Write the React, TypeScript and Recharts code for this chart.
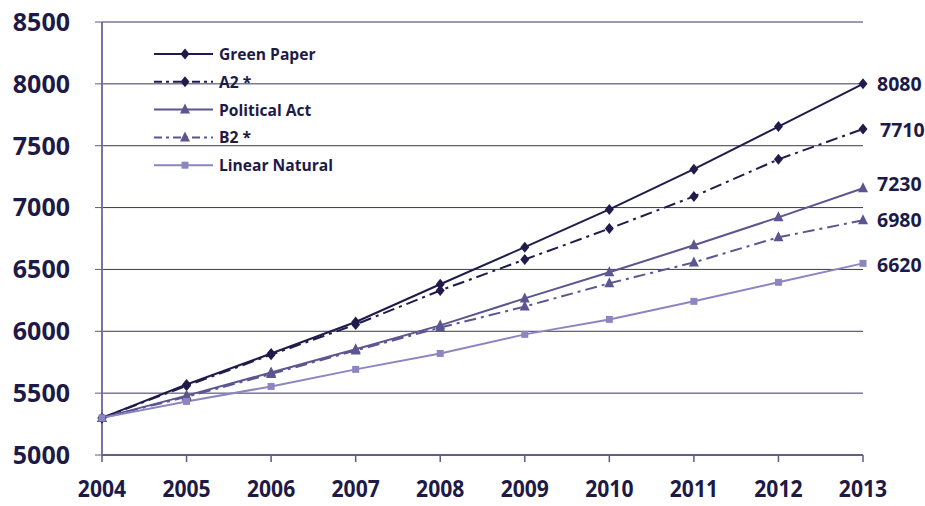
import React from 'react';
import { LineChart, Line, XAxis, YAxis, ReferenceLine, LabelList } from 'recharts';

const years = [2004, 2005, 2006, 2007, 2008, 2009, 2010, 2011, 2012, 2013];
const greenPaper = [5300, 5570, 5820, 6075, 6380, 6680, 6985, 7310, 7655, 8000];
const a2 = [5300, 5560, 5810, 6055, 6330, 6580, 6830, 7090, 7390, 7635];
const politicalAct = [5300, 5480, 5667, 5855, 6048, 6266, 6477, 6695, 6921, 7156];
const b2 = [5300, 5470, 5655, 5845, 6030, 6200, 6388, 6557, 6760, 6897];
const linearNatural = [5300, 5433, 5554, 5692, 5821, 5975, 6096, 6242, 6396, 6549];
const yTicks = [5000, 5500, 6000, 6500, 7000, 7500, 8000, 8500];
const endLabels = ['8080', '7710', '7230', '6980', '6620'];

const data = years.map((year, i) => ({
  year,
  gp: greenPaper[i],
  a2: a2[i],
  pa: politicalAct[i],
  b2: b2[i],
  ln: linearNatural[i],
}));

const DARK = '#1f1b4b';
const MID = '#5b5590';
const LIGHT = '#8b86c2';
const TEXT = '#1e1a47';
const DASHDOT = '12 5 3 5';

type Shape = 'diamond' | 'triangle' | 'square';

const marker = (shape: Shape, cx: number, cy: number, fill: string) => {
  if (shape === 'diamond')
    return <path d={`M${cx},${cy - 5.5}L${cx + 4.5},${cy}L${cx},${cy + 5.5}L${cx - 4.5},${cy}Z`} fill={fill} />;
  if (shape === 'triangle')
    return <path d={`M${cx},${cy - 6}L${cx + 5},${cy + 4}L${cx - 5},${cy + 4}Z`} fill={fill} />;
  return <rect x={cx - 3.5} y={cy - 3.5} width={7} height={7} fill={fill} />;
};

// small nudges so the end labels sit like the original
const labelShift: Record<string, [number, number]> = {
  gp: [14, 0],
  a2: [17, 0],
  pa: [14, -5],
  b2: [14, -1],
  ln: [14, 1],
};

// marker at every point (from the label positions), plus the value next to the last one
const makePointMark = (key: string, shape: Shape, fill: string, label: string) => (props: any) => {
  const { x, y, index } = props;
  if (x == null || y == null) return null;
  const [dx, dy] = labelShift[key];
  return (
    <g>
      {marker(shape, x, y, fill)}
      {index === years.length - 1 && (
        <text
          x={x + dx}
          y={y + dy}
          dominantBaseline="central"
          fill={TEXT}
          fontFamily="'Open Sans', sans-serif"
          fontWeight={700}
          fontSize={19.5}
        >
          {label}
        </text>
      )}
    </g>
  );
};

const series = [
  { key: 'gp', name: 'Green Paper', color: DARK, dash: undefined, shape: 'diamond' as Shape },
  { key: 'a2', name: 'A2 *', color: DARK, dash: DASHDOT, shape: 'diamond' as Shape },
  { key: 'pa', name: 'Political Act', color: MID, dash: undefined, shape: 'triangle' as Shape },
  { key: 'b2', name: 'B2 *', color: MID, dash: DASHDOT, shape: 'triangle' as Shape },
  { key: 'ln', name: 'Linear Natural', color: LIGHT, dash: undefined, shape: 'square' as Shape },
];

// condensed year labels
const YearTick = (props: any) => {
  const { x, y, payload } = props;
  return (
    <g transform={`translate(${x},${y}) scale(0.88,1)`}>
      <text
        x={0}
        y={0}
        dy="0.71em"
        textAnchor="middle"
        fill={TEXT}
        fontFamily="'Open Sans', sans-serif"
        fontWeight={700}
        fontSize={24}
      >
        {payload.value}
      </text>
    </g>
  );
};

const Legend = () => (
  <svg width={200} height={140} style={{ position: 'absolute', left: 150, top: 40 }}>
    {series.map((s, i) => {
      const y = 14 + i * 27.8;
      return (
        <g key={s.key}>
          <line x1={4} x2={63} y1={y} y2={y} stroke={s.color} strokeWidth={2} strokeDasharray={s.dash ? '8 4 3 4' : undefined} />
          {marker(s.shape, 35, y, s.color)}
          <text
            x={69}
            y={y}
            dominantBaseline="central"
            fill={TEXT}
            fontFamily="'Open Sans', sans-serif"
            fontWeight={700}
            fontSize={15.6}
          >
            {s.name}
          </text>
        </g>
      );
    })}
  </svg>
);

const App = () => (
  <div style={{ position: 'absolute', left: 0, top: 0, width: 925, height: 506, background: '#fff' }}>
    <LineChart width={925} height={506} data={data} margin={{ top: 22, right: 62, bottom: 0, left: 0 }}>
      {yTicks.slice(1).map((t) => (
        <ReferenceLine key={t} y={t} stroke="#3a3566" strokeWidth={1} />
      ))}
      <XAxis
        dataKey="year"
        height={51}
        stroke="#2d2a55"
        strokeWidth={1.5}
        tickSize={7}
        tickMargin={18}
        tickLine={{ stroke: '#5e5a85' }}
        tick={<YearTick />}
      />
      <YAxis
        domain={[5000, 8500]}
        ticks={yTicks}
        width={102}
        stroke="#7a769e"
        strokeWidth={2}
        tickSize={7}
        tickMargin={25}
        tickLine={{ stroke: '#5e5a85', strokeWidth: 1 }}
        tick={{ fill: TEXT, fontSize: 25, fontWeight: 700, fontFamily: "'Open Sans', sans-serif" }}
      />
      {series.map((s, i) => (
        <Line
          key={s.key}
          dataKey={s.key}
          stroke={s.color}
          strokeWidth={2}
          strokeDasharray={s.dash}
          dot={false}
          activeDot={false}
          isAnimationActive={false}
        >
          <LabelList dataKey={s.key} content={makePointMark(s.key, s.shape, s.color, endLabels[i])} />
        </Line>
      ))}
    </LineChart>
    <Legend />
  </div>
);

export default App;
